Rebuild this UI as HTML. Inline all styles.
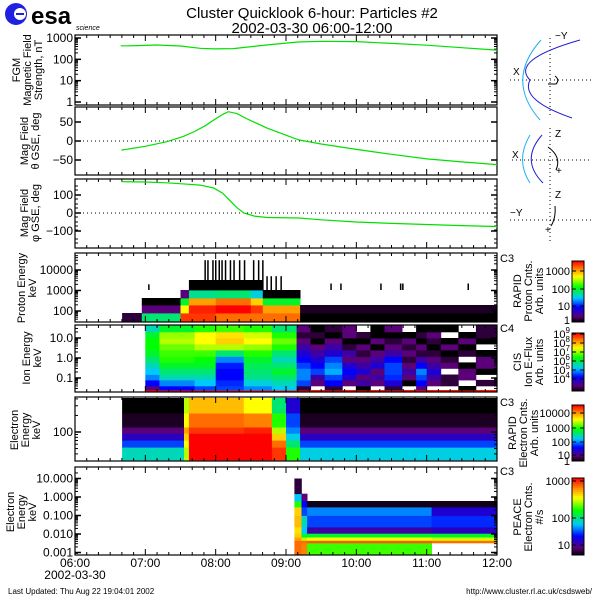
<!DOCTYPE html>
<html><head><meta charset="utf-8">
<style>
html,body{margin:0;padding:0;background:#fff;}
#wrap{position:relative;width:600px;height:600px;overflow:hidden;font-family:"Liberation Sans",sans-serif;}
svg text{font-family:"Liberation Sans",sans-serif;}
</style></head>
<body>
<div id="wrap">
<svg id="fig" width="600" height="600" viewBox="0 0 600 600" xmlns="http://www.w3.org/2000/svg">
  <g>
    <circle cx="16" cy="14" r="11" fill="#2020e0"/>
    <circle cx="20" cy="14" r="6" fill="#fff"/>
    <rect x="16" y="13" width="8" height="2" fill="#2020e0"/>
    <text x="31" y="24" font-size="24" font-weight="bold" fill="#000">esa</text>
    <text x="76" y="30" font-size="7" font-style="italic" fill="#000">science</text>
  </g>
  <text x="312" y="18" font-size="15" text-anchor="middle">Cluster Quicklook 6-hour: Particles #2</text>
  <text x="312" y="33" font-size="15" text-anchor="middle">2002-03-30 06:00-12:00</text>
  <g id="panels"></g>
  <g fill="none">
    <line x1="510" y1="80" x2="592" y2="80" stroke="#000" stroke-dasharray="1,3"/>
    <line x1="550" y1="38" x2="550" y2="118" stroke="#000" stroke-dasharray="1,3"/>
    <path d="M541,40 Q505,80 540,120" stroke="#20b0f0"/>
    <path d="M580,40 Q510,60 530,80 Q520,100 572,118" stroke="#2020d0"/>
    <path d="M548,84 L556,84 Q560,80 555,76" stroke="#000"/>
    <text x="513" y="75" font-size="10" fill="#000" stroke="none">X</text>
    <text x="555" y="39" font-size="10" fill="#000" stroke="none">−Y</text>
    <line x1="512" y1="160" x2="592" y2="160" stroke="#000" stroke-dasharray="1,3"/>
    <line x1="550" y1="128" x2="550" y2="185" stroke="#000" stroke-dasharray="1,3"/>
    <path d="M530,135 Q515,160 530,183" stroke="#20b0f0"/>
    <path d="M542,135 Q520,160 543,183" stroke="#2020d0"/>
    <path d="M548,147 Q562,157 556,170" stroke="#000"/>
    <text x="556" y="174" font-size="10" fill="#000" stroke="none">+</text>
    <text x="555" y="137" font-size="10" fill="#000" stroke="none">Z</text>
    <text x="512" y="158" font-size="10" fill="#000" stroke="none">X</text>
    <line x1="510" y1="220" x2="592" y2="220" stroke="#000" stroke-dasharray="1,3"/>
    <line x1="550" y1="188" x2="550" y2="242" stroke="#000" stroke-dasharray="1,3"/>
    <path d="M555,206 Q556,218 551,226" stroke="#000"/>
    <text x="545" y="233" font-size="10" fill="#000" stroke="none">+</text>
    <text x="555" y="198" font-size="10" fill="#000" stroke="none">Z</text>
    <text x="510" y="216" font-size="10" fill="#000" stroke="none">−Y</text>
  </g>
  <text x="8" y="594" font-size="8">Last Updated:  Thu Aug 22 19:04:01 2002</text>
  <text x="592" y="594" font-size="8" text-anchor="end">http://www.cluster.rl.ac.uk/csdsweb/</text>
</svg>
</div>
<script>
// ---------- DATA ----------
const hourTicks = ["06:00","07:00","08:00","09:00","10:00","11:00","12:00"];
const bmagTimes = [6.65,6.75,6.88,7.16,7.5,7.78,7.97,8.25,8.72,9.17,9.5,10,10.5,11,11.5,12];
const bmagValues = [430,430,440,470,420,330,310,320,470,650,700,680,560,460,350,270];
const thetaTimes = [6.66,7.0,7.30,7.54,7.7,7.85,7.97,8.1,8.18,8.3,8.45,8.73,9.18,9.5,10,10.5,11,11.5,12];
const thetaValues = [-24,-14,-2,12,25,40,55,70,77,72,58,34,3,-8,-22,-35,-47,-55,-62];
const phiTimes = [6.66,7.0,7.3,7.6,7.78,7.97,8.1,8.2,8.3,8.4,8.55,8.73,9.18,9.5,10,10.5,11,11.5,12];
const phiValues = [174,172,168,160,155,139,110,70,30,0,-17,-25,-28,-38,-50,-58,-64,-70,-75];

const protonEdges = [29,80,196,430,1060,3250,30000];
const protonTimes = [6.67,6.95,7.5,7.62,8.0,8.5,8.67,9.2,12];
const protonGrid = [
 [0.05,-1,-1,-1,-1,-1],
 [0.5,0.1,0,-1,-1,-1],
 [0.95,0.75,0.55,0.1,-1,-1],
 [0.95,0.97,0.85,0.48,0,-1],
 [0.9,1.0,0.9,0.5,0,-1],
 [0.9,0.95,0.8,0.42,0,-1],
 [0.9,0.85,0.55,0,-1,-1],
 [0,0.03,-1,-1,-1,-1]
];
const protonSpikeTimes = [7.04,7.84,7.88,7.95,7.99,8.04,8.08,8.13,8.2,8.25,8.33,8.4,8.53,8.6,8.66,8.72,8.78,8.85,8.92,9.63,9.77,10.34,10.62,10.65,11.58];
const protonSpikeTops = [2000,30000,30000,30000,30000,30000,30000,30000,30000,30000,30000,30000,30000,30000,30000,5000,5000,5000,5000,2200,2200,2200,2200,2200,2200];

const ionEdges = [0.02,0.025,0.04,0.08,0.15,0.3,0.6,1.2,2.5,5,10,20,45];
const ionTimes = [7.0,7.2,7.7,8.0,8.4,8.8,9.15,9.35,9.55,9.8,10.0,10.2,10.4,10.65,10.85,11.0,11.2,11.45,11.7,12];
const ionGrid = [
 [0.98,0.1,0.25,0.35,0.4,0.45,0.5,0.55,0.58,0.58,0.55,0.45],
 [0.98,0.25,0.35,0.45,0.5,0.55,0.6,0.62,0.65,0.7,0.68,0.55],
 [0.98,0.3,0.4,0.45,0.5,0.55,0.58,0.62,0.7,0.75,0.75,0.6],
 [0.98,0.3,0.28,0.25,0.25,0.27,0.35,0.5,0.7,0.8,0.78,0.62],
 [0.98,0.35,0.42,0.48,0.5,0.52,0.55,0.6,0.68,0.75,0.72,0.6],
 [0.98,0.4,0.45,0.5,0.55,0.5,0.45,0.5,0.6,0.65,0.6,0.5],
 [0.98,0.05,0.3,0.35,0.35,0.3,0.25,0.2,0.15,0.1,0.05,0.1],
 [0.98,-1,0.1,0.15,0.3,0.25,0.2,0.15,0.1,0,0.05,0],
 [0.98,0.05,0.25,0.3,0.38,0.35,0.3,0.2,0.15,0.1,0,0.05],
 [0.98,-1,0.1,0.2,0.25,0.2,0.1,0.15,0.05,0,0.1,0.1],
 [0.98,0,0.15,0.1,0.2,0.15,0.1,0.05,0.1,0,0.05,-1],
 [0.98,-1,0.1,0.15,0.1,0.2,0.15,0.1,0,0.1,0,0],
 [0.98,0.05,0.2,0.28,0.3,0.3,0.25,0.15,0.1,0.05,0,0.1],
 [0.98,-1,0,0.1,0.15,0.1,0.05,0.1,0.05,0.1,0,-1],
 [0.98,0.1,0.25,0.3,0.35,0.25,0.15,0.05,0.1,0,0.05,0],
 [0.98,-1,0.1,0.15,0.2,0.15,0.1,0.05,0,0.05,0.1,0],
 [0.98,-1,0.05,0.05,-1,0.1,0.05,0,0.1,0,-1,0],
 [0.98,0,-1,0.1,0.1,0,-1,0.05,0,0.1,0,-1],
 [0.98,-1,0.05,-1,0,0.1,0.1,0,-1,0,0.05,0.05]
];

const elecEdges = [31,53,71,95,123,221,415];
const elecTimes = [6.67,7.55,7.62,8.4,8.8,9.0,9.2,12];
const elecGrid = [
 [0.45,0.3,0.18,0.1,0.03,0],
 [0.7,0.75,0.8,0.85,0.75,0.7],
 [1,1,1,0.95,0.9,0.82],
 [1,1,1,0.97,0.88,0.75],
 [0.95,0.9,0.8,0.7,0.6,0.5],
 [0.6,0.5,0.42,0.35,0.3,0.2],
 [0.42,0.3,0.18,0.1,0.03,0]
];

const peaceEdges = [0.0008,0.0033,0.0045,0.0068,0.011,0.024,0.1,0.29,0.61,1.5,10];
const peaceTimes = [9.12,9.22,9.3,11.07,12];
const peaceGrid = [
 [0.9,0.9,0.85,0.8,0.78,0.82,0.8,0.6,0.4,0.05],
 [0.88,0.9,0.7,0.55,0.4,0.45,0.3,0.25,0.1,-1],
 [0.62,0.92,0.75,0.55,0.15,0.3,0.35,0.02,-1,-1],
 [-1,0.9,0.72,0.55,0.18,0.28,0.2,0.02,-1,-1]
];

// ---------- HELPERS ----------
const NS="http://www.w3.org/2000/svg";
const root=document.getElementById('panels');
const X0=75,X1=497;
function tx(h){return X0+(h-6)/6*(X1-X0);}
function mk(tag,attrs,parent){const e=document.createElementNS(NS,tag);for(const k in attrs)e.setAttribute(k,attrs[k]);(parent||root).appendChild(e);return e;}
const stops=[[0,0,0,0],[0.1,90,0,120],[0.25,0,0,255],[0.4,0,200,255],[0.58,0,255,0],[0.75,255,255,0],[0.87,255,140,0],[1,255,0,0]];
function cmap(v){v=Math.max(0,Math.min(1,v));for(let i=1;i<stops.length;i++){if(v<=stops[i][0]){const a=stops[i-1],b=stops[i],t=(v-a[0])/(b[0]-a[0]);return `rgb(${Math.round(a[1]+t*(b[1]-a[1]))},${Math.round(a[2]+t*(b[2]-a[2]))},${Math.round(a[3]+t*(b[3]-a[3]))})`;}}return 'rgb(255,0,0)';}
function logScale(v0,y0,v1,y1){const a=Math.log10(v0),b=Math.log10(v1);return v=>y0+(Math.log10(v)-a)/(b-a)*(y1-y0);}
function linScale(v0,y0,v1,y1){return v=>y0+(v-v0)/(v1-v0)*(y1-y0);}

function frame(top,bot,name){
  const g=mk('g',{});
  
  
  for(let m=0;m<=36;m++){const x=X0+m*(X1-X0)/36;const L=(m%6==0)?6:3;
    mk('line',{x1:x,y1:top,x2:x,y2:top+L,stroke:'#000','stroke-width':1},g);
    mk('line',{x1:x,y1:bot,x2:x,y2:bot-L,stroke:'#000','stroke-width':1},g);}
  mk('rect',{x:X0,y:top,width:X1-X0,height:bot-top,fill:'none',stroke:'#000','stroke-width':1.2},g);
  return g;
}
function yticks(ys,labels,name,minor){
  const g=mk('g',{});
  
  
  ys.forEach((y,i)=>{
    mk('line',{x1:X0,y1:y,x2:X0+6,y2:y,stroke:'#000','stroke-width':1.5},g);
    mk('line',{x1:X1,y1:y,x2:X1-6,y2:y,stroke:'#000','stroke-width':1.5},g);
    const t=mk('text',{x:X0-2,y:y+4,'font-size':12,'text-anchor':'end'},g);t.textContent=labels[i];
  });
  (minor||[]).forEach(y=>{
    mk('line',{x1:X0,y1:y,x2:X0+3,y2:y,stroke:'#000'},g);
    mk('line',{x1:X1,y1:y,x2:X1-3,y2:y,stroke:'#000'},g);
  });
}
function ylabel(lines,cx,cy,name){
  const t=mk('text',{transform:`translate(${cx},${cy}) rotate(-90)`,'font-size':11,'text-anchor':'middle'});
  
  
  lines.forEach((s,i)=>{const ts=mk('tspan',{x:0,dy:i==0?0:11},t);ts.textContent=s;});
}
function logMinor(sc,lo,hi){const r=[];for(let d=Math.floor(Math.log10(lo));d<=Math.ceil(Math.log10(hi));d++)for(let k=2;k<=9;k++){const v=k*Math.pow(10,d);if(v>lo&&v<hi)r.push(sc(v));}return r;}
function line(times,vals,sc,name){
  const p=times.map((t,i)=>tx(t).toFixed(1)+','+sc(vals[i]).toFixed(1)).join(' ');
  const e=mk('polyline',{points:p,fill:'none',stroke:'#00e000','stroke-width':1.2});
  
  
}
function spectro(times,edges,grid,sc,name){
  const g=mk('g',{});
  
  
  grid.forEach((col,i)=>{const xa=tx(times[i]),xb=tx(times[i+1]);
    col.forEach((v,j)=>{if(v<0)return;const ya=sc(edges[j+1]),yb=sc(edges[j]);
      const r=mk('rect',{x:xa.toFixed(1),y:ya.toFixed(1),width:(xb-xa+0.4).toFixed(1),height:(yb-ya+0.4).toFixed(1),fill:cmap(v)},g);
      
      
    });});
}
function colorbar(top,bot,ticksY,labels,name,sup){
  const g=mk('g',{});
  
  
  const n=40;for(let i=0;i<n;i++){const y=bot-(i+1)*(bot-top)/n;mk('rect',{x:572,y:y,width:12,height:(bot-top)/n+0.5,fill:cmap((i+0.5)/n)},g);}
  mk('rect',{x:572,y:top,width:12,height:bot-top,fill:'none',stroke:'#000'},g);
  ticksY.forEach((y,i)=>{mk('line',{x1:572,y1:y,x2:576,y2:y,stroke:'#000'},g);mk('line',{x1:584,y1:y,x2:580,y2:y,stroke:'#000'},g);
    const t=mk('text',{x:570,y:y+4,'font-size':11,'text-anchor':'end'},g);
    if(sup){const a=mk('tspan',{},t);a.textContent='10';const b=mk('tspan',{dy:-5,'font-size':8},t);b.textContent=labels[i];}
    else t.textContent=labels[i];});
}

// ---------- PANEL 1 : |B| ----------
const s1=logScale(1,102,1000,38);
frame(35,105,'bmag-panel');
yticks([s1(1),s1(10),s1(100),s1(1000)],['1','10','100','1000'],'bmag',logMinor(s1,1,1100));
line(bmagTimes,bmagValues,s1,'bmag-line');
ylabel(['FGM','Magnetic Field','Strength, nT'],20,70,'bmag-y-title');

// ---------- PANEL 2 : theta ----------
const s2=linScale(0,141,50,122);
frame(107,175,'theta-panel');
yticks([s2(50),s2(0),s2(-50)],['50','0','−50'],'theta');
mk('line',{x1:X0,y1:s2(0),x2:X1,y2:s2(0),stroke:'#000','stroke-dasharray':'1,3'});
line(thetaTimes,thetaValues,s2,'theta-line');
ylabel(['Mag  Field','θ GSE, deg'],28,141,'theta-y-title');

// ---------- PANEL 3 : phi ----------
const s3=linScale(0,213,100,195);
frame(179,248,'phi-panel');
yticks([s3(100),s3(0),s3(-100)],['100','0','−100'],'phi',[186,190,199,204,208,217,222,226,230,239,243]);
mk('line',{x1:X0,y1:s3(0),x2:X1,y2:s3(0),stroke:'#000','stroke-dasharray':'1,3'});
line(phiTimes,phiValues,s3,'phi-line');
ylabel(['Mag  Field','φ GSE, deg'],28,213,'phi-y-title');

// ---------- PANEL 4 : proton ----------
const s4=logScale(100,311,1000,290.5);
spectro(protonTimes,protonEdges,protonGrid,s4,'proton-spectrogram');
protonSpikeTimes.forEach((t,i)=>{const e=mk('rect',{x:tx(t).toFixed(1),y:s4(protonSpikeTops[i]).toFixed(1),width:1.5,height:(s4(1060)-s4(protonSpikeTops[i])).toFixed(1),fill:'#000'});
  
  });
frame(253,322,'proton-panel');
yticks([s4(100),s4(1000),s4(10000)],['100','1000','10000'],'proton',logMinor(s4,30,60000));
ylabel(['Proton Energy','keV'],25,288,'proton-y-title');
const c3a=mk('text',{x:500,y:262,'font-size':11});c3a.textContent='C3';
colorbar(261,322,[271,289,306,320],['1000','100','10','1'],'proton');
ylabel(['RAPID','Proton Cnts.','Arb. units'],521,291,'proton-colorbar-title');

// ---------- PANEL 5 : ion ----------
const s5=logScale(1,358,10,338);
spectro(ionTimes,ionEdges,ionGrid,s5,'ion-spectrogram');
frame(325,392,'ion-panel');
yticks([s5(0.1),s5(1),s5(10)],['0.1','1.0','10.0'],'ion',logMinor(s5,0.025,40));
ylabel(['Ion  Energy','keV'],30,358,'ion-y-title');
const c4=mk('text',{x:500,y:332,'font-size':11});c4.textContent='C4';
colorbar(333,391,[334,343,352,361,370,379],['9','8','7','6','5','4'],'ion',true);
ylabel(['CIS','Ion E-Flux','Arb. units'],521,362,'ion-colorbar-title');

// ---------- PANEL 6 : electron RAPID ----------
const s6=logScale(100,432,1000,377);
spectro(elecTimes,elecEdges,elecGrid,s6,'electron-spectrogram');
frame(397,461,'electron-panel');
yticks([s6(100)],['100'],'electron',logMinor(s6,32,410));
ylabel(['Electron','Energy','keV'],18,430,'electron-y-title');
const c3b=mk('text',{x:500,y:406,'font-size':11});c3b.textContent='C3';
colorbar(405,461,[413,428,442,455,461],['10000','1000','100','10','1'],'electron');
ylabel(['RAPID','Electron Cnts.','Arb. units'],516,433,'electron-colorbar-title');

// ---------- PANEL 7 : PEACE ----------
const s7=logScale(1,497,10,478.5);
spectro(peaceTimes,peaceEdges,peaceGrid,s7,'peace-spectrogram');
frame(467,555,'peace-panel');
yticks([s7(0.001),s7(0.01),s7(0.1),s7(1),s7(10)],['0.001','0.010','0.100','1.000','10.000'],'peace',logMinor(s7,0.0008,30));
ylabel(['Electron','Energy','keV'],14,512,'peace-y-title');
const c3c=mk('text',{x:500,y:475,'font-size':11});c3c.textContent='C3';
colorbar(478,555,[481,518,545],['1000','100','10'],'peace');
ylabel(['PEACE','Electron Cnts.','#/s'],521,517,'peace-colorbar-title');

// ---------- time axis ----------
hourTicks.forEach((s,i)=>{const t=mk('text',{x:tx(6+i),y:567,'font-size':12,'text-anchor':'middle'});t.textContent=s;
  
  });
const dt=mk('text',{x:75,y:579,'font-size':12,'text-anchor':'middle'});dt.textContent='2002-03-30';


</script>
</body></html>
